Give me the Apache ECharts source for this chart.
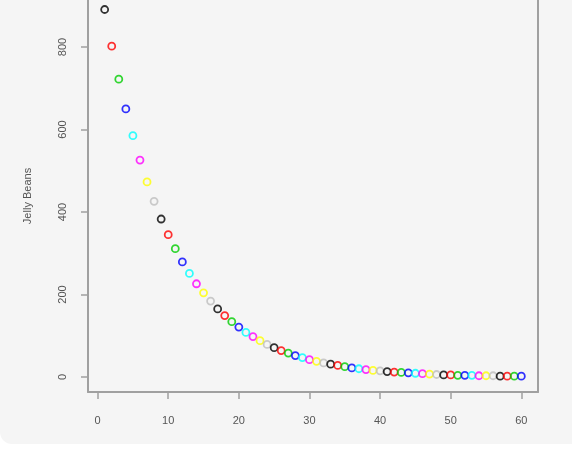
<!DOCTYPE html>
<html>
<head>
<meta charset="utf-8">
<script src="https://cdn.jsdelivr.net/npm/echarts@6/dist/echarts.min.js"></script>
<style>
  html, body { margin: 0; padding: 0; background: #ffffff; }
  #bg { position: absolute; left: 0; top: 0; width: 572px; height: 444px; background: #f5f5f5; border-bottom-left-radius: 12px; }
  #chart { position: absolute; left: 0; top: 0; width: 572px; height: 450px; }
</style>
</head>
<body>
<div id="bg"></div>
<div id="chart"></div>
<script>
// Data
var xValues = [1,2,3,4,5,6,7,8,9,10,11,12,13,14,15,16,17,18,19,20,
               21,22,23,24,25,26,27,28,29,30,31,32,33,34,35,36,37,38,39,40,
               41,42,43,44,45,46,47,48,49,50,51,52,53,54,55,56,57,58,59,60];
var jellyBeans = [891,802,722,650,585,526,473,426,383,345,
                  311,279,251,226,204,184,165,149,134,121,
                  108,98,88,79,71,64,58,52,47,42,
                  38,34,31,28,25,22,20,18,16,15,
                  13,12,11,10,9,8,7,6,5,5,
                  4,4,4,3,3,3,2,2,2,2];
var xTicks = [0,10,20,30,40,50,60];
var yTicks = [0,200,400,600,800];
var yTitle = 'Jelly Beans';
var palette = ['#000000','#FF0000','#00CD00','#0000FF','#00FFFF','#FF00FF','#FFFF00','#BEBEBE'];

var points = xValues.map(function (x, i) {
  return { value: [x, jellyBeans[i]], itemStyle: { borderColor: palette[i % palette.length] } };
});

var chart = echarts.init(document.getElementById('chart'), null, { renderer: 'canvas' });
var labelStyle = { color: '#555555', fontFamily: 'Liberation Sans, Arial, sans-serif', fontSize: 11 };
var boxLine = { show: true, onZero: false, lineStyle: { color: '#a0a0a0', width: 2 } };
var tickStyle = { color: '#a0a0a0', width: 1.5 };
chart.setOption({
  animation: false,
  backgroundColor: 'transparent',
  grid: { left: 88, right: 34, top: 0, bottom: 58, show: false },
  xAxis: {
    type: 'value', min: -1.36, max: 62.36, position: 'bottom',
    axisLine: boxLine,
    splitLine: { show: false },
    axisTick: { show: true, inside: false, length: 7, customValues: xTicks, lineStyle: tickStyle },
    axisLabel: Object.assign({ customValues: xTicks, margin: 23 }, labelStyle)
  },
  yAxis: [{
    type: 'value', min: -36.4, max: 914, position: 'left',
    name: yTitle, nameLocation: 'middle', nameGap: 55, nameRotate: 90,
    nameTextStyle: Object.assign({}, labelStyle),
    axisLine: boxLine,
    splitLine: { show: false },
    axisTick: { show: true, inside: false, length: 7, customValues: yTicks, lineStyle: tickStyle },
    axisLabel: Object.assign({ customValues: yTicks, rotate: 90, margin: 20 }, labelStyle)
  }, {
    type: 'value', min: -36.4, max: 914, position: 'right',
    axisLine: boxLine,
    splitLine: { show: false },
    axisTick: { show: false },
    axisLabel: { show: false }
  }],
  series: [{
    type: 'scatter',
    data: points,
    symbol: 'circle',
    symbolSize: 7,
    silent: true,
    itemStyle: { color: 'rgba(0,0,0,0)', borderWidth: 1.8 }
  }]
});
</script>
</body>
</html>
